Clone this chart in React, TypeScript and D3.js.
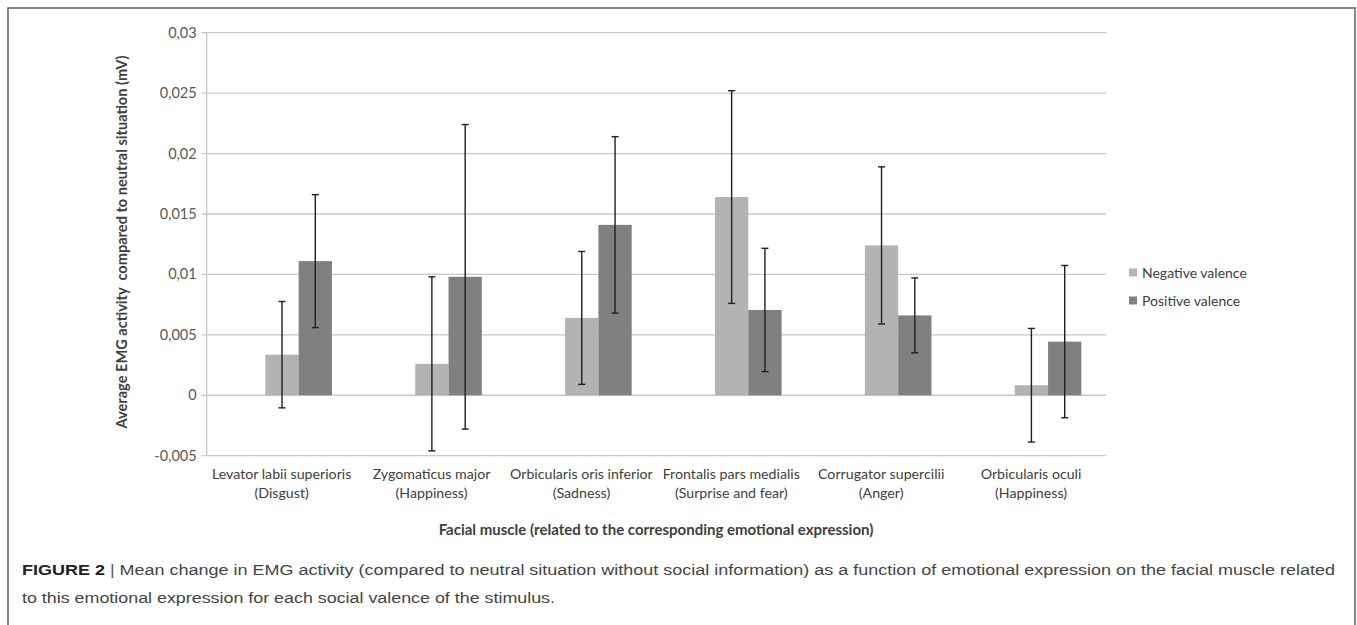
import * as d3 from "d3";

const categories = [
  ["Levator labii superioris", "(Disgust)"],
  ["Zygomaticus major", "(Happiness)"],
  ["Orbicularis oris inferior", "(Sadness)"],
  ["Frontalis pars medialis", "(Surprise and fear)"],
  ["Corrugator supercilii", "(Anger)"],
  ["Orbicularis oculi", "(Happiness)"],
];

const negativeMeans = [0.00336, 0.0026, 0.0064, 0.0164, 0.0124, 0.00083];
const negativeErrors = [0.0044, 0.0072, 0.0055, 0.0088, 0.0065, 0.0047];
const positiveMeans = [0.0111, 0.0098, 0.0141, 0.00706, 0.00661, 0.00444];
const positiveErrors = [0.0055, 0.0126, 0.0073, 0.0051, 0.0031, 0.0063];

const yTicks = [-0.005, 0, 0.005, 0.01, 0.015, 0.02, 0.025, 0.03];
const yTickLabels = ["-0,005", "0", "0,005", "0,01", "0,015", "0,02", "0,025", "0,03"];

const seriesNames = ["Negative valence", "Positive valence"];
const seriesColors = ["#b3b3b3", "#808080"];

const FONT = "Lato, 'Open Sans', sans-serif";

export default function App() {
  const W = 1357;
  const H = 625;
  const left = 206.7;
  const right = 1106;
  const top = 32.7;
  const bottom = 455.7;

  const x = d3.scaleBand().domain(categories.map((c) => c[0])).range([left, right]);
  const y = d3.scaleLinear().domain([-0.005, 0.03]).range([bottom, top]);
  const barW = 33.3;
  const barShift = 17; // bars sit a bit right of the label centres in the original
  const cap = 3.5;

  const series = [
    { means: negativeMeans, errs: negativeErrors, off: -barW },
    { means: positiveMeans, errs: positiveErrors, off: 0 },
  ];

  return (
    <svg
      width={W}
      height={H}
      style={{ position: "absolute", left: 0, top: 0, background: "#fff" }}
    >
      {/* figure frame */}
      <rect x={8} y={8} width={1347} height={680} fill="none" stroke="#6a6a6a" strokeWidth={1.6} />

      {/* grid */}
      {yTicks.map((t) => (
        <line key={t} x1={left - 5} x2={right} y1={y(t)} y2={y(t)} stroke="#c8c8c8" strokeWidth={1.3} />
      ))}
      <line x1={left} x2={left} y1={top} y2={bottom} stroke="#c8c8c8" strokeWidth={1.3} />

      {/* tick labels */}
      {yTicks.map((t, i) => (
        <text
          key={t}
          x={left - 10}
          y={y(t)}
          dy="0.35em"
          textAnchor="end"
          fontFamily={FONT}
          fontSize={14.5}
          fill="#595959"
        >
          {yTickLabels[i]}
        </text>
      ))}

      {/* bars */}
      {series.map((s, si) =>
        categories.map((c, i) => {
          const cx = (x(c[0]) as number) + x.bandwidth() / 2 + barShift + s.off;
          const v = s.means[i];
          return (
            <rect
              key={`${si}-${i}`}
              x={cx}
              y={Math.min(y(v), y(0))}
              width={barW}
              height={Math.abs(y(0) - y(v))}
              fill={seriesColors[si]}
            />
          );
        })
      )}

      {/* error bars */}
      {series.map((s, si) =>
        categories.map((c, i) => {
          const ex = (x(c[0]) as number) + x.bandwidth() / 2 + barShift + s.off + barW / 2;
          const hi = y(s.means[i] + s.errs[i]);
          const lo = y(s.means[i] - s.errs[i]);
          return (
            <g key={`e${si}-${i}`} stroke="#1f1f1f" strokeWidth={1.4}>
              <line x1={ex} x2={ex} y1={hi} y2={lo} />
              <line x1={ex - cap} x2={ex + cap} y1={hi} y2={hi} />
              <line x1={ex - cap} x2={ex + cap} y1={lo} y2={lo} />
            </g>
          );
        })
      )}

      {/* category labels */}
      {categories.map((c) => {
        const cx = (x(c[0]) as number) + x.bandwidth() / 2;
        return (
          <text key={c[0]} x={cx} textAnchor="middle" fontFamily={FONT} fontSize={14.2} fill="#404040">
            <tspan x={cx} y={479}>{c[0]}</tspan>
            <tspan x={cx} y={498}>{c[1]}</tspan>
          </text>
        );
      })}

      {/* axis titles */}
      <text
        x={656}
        y={535}
        textAnchor="middle"
        fontFamily={FONT}
        fontSize={15}
        fontWeight="bold"
        fill="#404040"
      >
        Facial muscle (related to the corresponding emotional expression)
      </text>
      <text
        transform="translate(127,242) rotate(-90)"
        textAnchor="middle"
        fontFamily={FONT}
        fontSize={14.6}
        fontWeight="bold"
        fill="#404040"
        style={{ whiteSpace: "pre" }}
      >
        {"Average EMG activity  compared to neutral situation (mV)"}
      </text>

      {/* legend */}
      {seriesNames.map((n, i) => (
        <g key={n}>
          <rect x={1129} y={268.5 + i * 28} width={8} height={8} fill={seriesColors[i]} />
          <text x={1142} y={277.5 + i * 28} fontFamily={FONT} fontSize={14} fill="#404040">
            {n}
          </text>
        </g>
      ))}

      {/* caption */}
      <text
        x={22}
        y={575}
        fontFamily="'Liberation Sans', Arial, sans-serif"
        fontSize={15.5}
        fill="#444"
        textLength={1313}
        lengthAdjust="spacingAndGlyphs"
      >
        <tspan fontWeight="bold" fill="#222">FIGURE 2</tspan>
        <tspan fill="#555"> | </tspan>
        <tspan>
          Mean change in EMG activity (compared to neutral situation without social information) as a function of emotional expression on the facial muscle related
        </tspan>
      </text>
      <text
        x={22}
        y={603}
        fontFamily="'Liberation Sans', Arial, sans-serif"
        fontSize={15.5}
        fill="#444"
        textLength={533}
        lengthAdjust="spacingAndGlyphs"
      >
        to this emotional expression for each social valence of the stimulus.
      </text>
    </svg>
  );
}
